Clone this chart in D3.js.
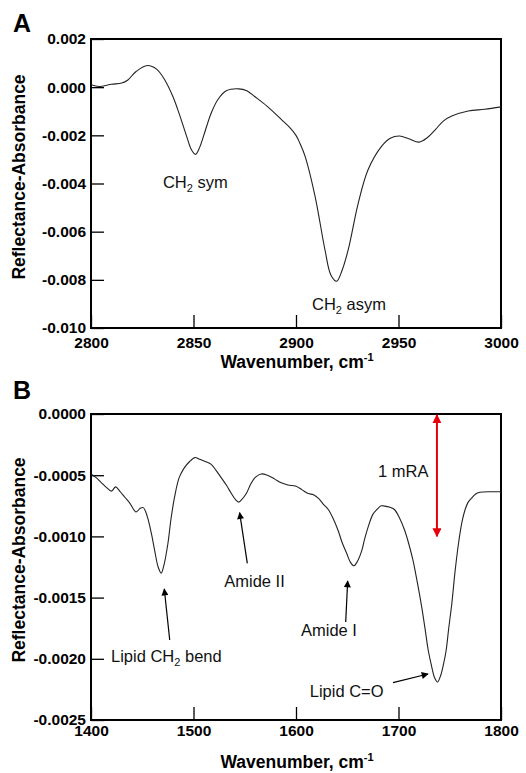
<!DOCTYPE html>
<html><head><meta charset="utf-8">
<script src="https://cdn.jsdelivr.net/npm/d3@7"></script>
<style>
body{margin:0;background:#fff}
text{font-family:"Liberation Sans",Arial,Helvetica,sans-serif}
</style>
</head><body>
<svg id="c" width="526" height="773"></svg>
<script>
// ---------- Panel A data ----------
const waveA = [2800,2804,2810,2815,2818,2822,2827.5,2832,2836,2840,2843,2846.5,2849,2851,2853,2855,2858.7,2862,2866,2872,2876,2880,2886,2892.8,2897,2900,2902,2904.4,2909.3,2914.1,2917,2919.8,2922.5,2925.5,2930.4,2935.2,2941.8,2946,2950.5,2955,2960,2964,2968,2972,2976,2984,2992,3000];
const absA  = [0.00010,0.00003,0.00012,0.00017,0.00030,0.00065,0.00090,0.00075,0.00030,-0.00040,-0.00110,-0.00200,-0.00260,-0.00279,-0.00250,-0.00200,-0.00106,-0.00050,-0.00015,-0.00007,-0.00015,-0.00040,-0.00080,-0.00134,-0.00168,-0.00200,-0.00235,-0.00286,-0.00453,-0.00674,-0.00780,-0.00806,-0.00760,-0.00674,-0.00480,-0.00342,-0.00245,-0.00212,-0.00203,-0.00214,-0.00228,-0.00210,-0.00176,-0.00140,-0.00120,-0.00099,-0.00092,-0.00082];
const xTicksA = [2800,2850,2900,2950,3000];
const yTicksA = [0.002,0,-0.002,-0.004,-0.006,-0.008,-0.010];

// ---------- Panel B data ----------
const waveB = [1400,1405,1410,1415,1420,1424,1428,1433,1438,1444,1448,1451,1455,1459,1462,1465.5,1468.5,1471,1475,1478,1481.5,1486,1491,1496,1501.5,1506,1512,1517,1522,1527,1532,1537,1541,1544,1547,1551.5,1556,1560,1566,1572,1579,1585,1592,1600,1606,1612,1617,1622,1627,1631.5,1636,1641,1645,1649.5,1653,1656.5,1659.5,1664,1667,1670.5,1675,1679,1683,1686,1691,1696,1701,1706,1710,1714,1718,1722.5,1726,1729,1732,1735,1738,1741,1744,1746.5,1749,1752,1755,1758.5,1762,1765,1768,1771,1775,1779.5,1790,1800];
const absB  = [-0.00049,-0.00052,-0.00056,-0.00060,-0.00063,-0.000595,-0.00063,-0.00068,-0.00073,-0.00080,-0.00077,-0.000765,-0.00084,-0.00098,-0.00111,-0.00125,-0.00130,-0.00124,-0.00106,-0.00086,-0.00068,-0.00052,-0.00044,-0.00039,-0.000355,-0.00037,-0.00039,-0.00041,-0.00046,-0.00052,-0.00058,-0.00065,-0.00070,-0.00072,-0.00070,-0.00065,-0.00057,-0.00052,-0.00049,-0.00050,-0.00053,-0.00056,-0.00058,-0.00059,-0.00062,-0.00065,-0.00066,-0.00069,-0.00074,-0.00078,-0.00085,-0.00095,-0.00105,-0.00114,-0.00121,-0.00124,-0.00121,-0.00112,-0.00102,-0.00092,-0.00082,-0.00078,-0.00075,-0.000752,-0.00076,-0.00078,-0.00085,-0.00095,-0.00106,-0.00119,-0.00136,-0.00157,-0.00176,-0.00193,-0.00205,-0.00215,-0.00219,-0.00214,-0.00204,-0.00193,-0.00175,-0.00155,-0.00130,-0.00106,-0.00088,-0.00078,-0.00072,-0.00069,-0.000655,-0.00064,-0.000635,-0.000635];
const xTicksB = [1400,1500,1600,1700,1800];
const yTicksB = [0,-0.0005,-0.0010,-0.0015,-0.0020,-0.0025];

// ---------- Annotations (data units) ----------
const notesA = [
  {main:"CH", sub:"2", rest:" sym",  x:2835.1, y:-0.00418},
  {main:"CH", sub:"2", rest:" asym", x:2907.8, y:-0.00924}
];
const notesB = [
  {main:"Amide II", sub:"", rest:"", x:1530, y:-0.00141},
  {main:"Lipid CH", sub:"2", rest:" bend", x:1419.5, y:-0.00203},
  {main:"Amide I", sub:"", rest:"", x:1604.9, y:-0.00181},
  {main:"Lipid C=O", sub:"", rest:"", x:1613.4, y:-0.00231},
  {main:"1 mRA", sub:"", rest:"", x:1680, y:-0.000515}
];
const arrowsB = [
  {x1:1552.5, y1:-0.00122, x2:1545.0, y2:-0.000806},
  {x1:1476.8, y1:-0.001846, x2:1471.5, y2:-0.00143},
  {x1:1648.5, y1:-0.00170, x2:1650.4, y2:-0.001364},
  {x1:1694.6, y1:-0.002195, x2:1728.8, y2:-0.002124}
];
const scaleBar = {x:1737.5, y1:0, y2:-0.0010};

const svg = d3.select("#c");
const defs = svg.append("defs");
defs.append("marker").attr("id","ah").attr("viewBox","0 0 10 10").attr("refX",9).attr("refY",5)
  .attr("markerWidth",8).attr("markerHeight",7).attr("markerUnits","userSpaceOnUse").attr("orient","auto")
  .append("path").attr("d","M0,0L10,5L0,10Z").attr("fill","#000");
defs.append("marker").attr("id","rh").attr("viewBox","0 0 10 10").attr("refX",9).attr("refY",5)
  .attr("markerWidth",9).attr("markerHeight",9).attr("markerUnits","userSpaceOnUse").attr("orient","auto-start-reverse")
  .append("path").attr("d","M0,0L10,5L0,10Z").attr("fill","#e8000b");

function panel(o){
  const x = d3.scaleLinear().domain(o.xd).range([91,501]);
  const y = d3.scaleLinear().domain(o.yd).range([o.bottom,o.top]);
  const g = svg.append("g");
  const fmt = d => d.toFixed(o.dec);
  const ya = g.append("g").attr("transform","translate(91,0)")
    .call(d3.axisLeft(y).tickValues(o.yt).tickSize(-13).tickPadding(5).tickFormat(fmt));
  const xa = g.append("g").attr("transform",`translate(0,${o.bottom})`)
    .call(d3.axisBottom(x).tickValues(o.xt).tickSize(-13).tickPadding(o.xpad).tickFormat(d3.format("d")));
  [ya,xa].forEach(a=>{
    a.select(".domain").remove();
    a.selectAll("line").attr("stroke","#000").attr("stroke-width",1.3);
    a.selectAll("text").attr("fill","#000").style("font-size","15.5px").style("font-weight","bold");
  });
  g.append("rect").attr("x",91).attr("y",o.top).attr("width",410).attr("height",o.bottom-o.top)
    .attr("fill","none").attr("stroke","#000").attr("stroke-width",2);
  const line = d3.line().x((d,i)=>x(o.w[i])).y(d=>y(d)).curve(d3.curveCatmullRom.alpha(0.5));
  g.append("path").datum(o.a).attr("d",line).attr("fill","none").attr("stroke","#222").attr("stroke-width",1.1);
  // titles
  g.append("text").attr("transform",`translate(25,${o.ylc}) rotate(-90)`).attr("text-anchor","middle")
    .style("font-size","17.5px").style("font-weight","bold").text("Reflectance-Absorbance");
  const xt = g.append("text").attr("x",297).attr("y",o.xtb).attr("text-anchor","middle")
    .style("font-size","17.5px").style("font-weight","bold");
  xt.append("tspan").text("Wavenumber, cm");
  xt.append("tspan").attr("dy",-7).style("font-size","11px").text("-1");
  g.append("text").attr("x",13).attr("y",o.pl).style("font-size","25px").style("font-weight","bold").text(o.label);
  o.notes.forEach(n=>{
    const t = g.append("text").attr("x",x(n.x)).attr("y",y(n.y)).style("font-size","16.5px").attr("fill","#111");
    t.append("tspan").text(n.main);
    if(n.sub){
      t.append("tspan").attr("dy",4).style("font-size","11px").text(n.sub);
      t.append("tspan").attr("dy",-4).text(n.rest);
    }
  });
  (o.arrows||[]).forEach(a=>{
    g.append("line").attr("x1",x(a.x1)).attr("y1",y(a.y1)).attr("x2",x(a.x2)).attr("y2",y(a.y2))
      .attr("stroke","#000").attr("stroke-width",1.2).attr("marker-end","url(#ah)");
  });
  if(o.bar){
    g.append("line").attr("x1",x(o.bar.x)).attr("x2",x(o.bar.x)).attr("y1",y(o.bar.y1)+1).attr("y2",y(o.bar.y2))
      .attr("stroke","#e8000b").attr("stroke-width",2).attr("marker-start","url(#rh)").attr("marker-end","url(#rh)");
  }
}

panel({xd:[2800,3000], yd:[-0.010,0.002], top:39, bottom:328, xt:xTicksA, yt:yTicksA, dec:3, xpad:9,
  w:waveA, a:absA, ylc:177, xtb:368, pl:32, label:"A", notes:notesA});
panel({xd:[1400,1800], yd:[-0.0025,0], top:414, bottom:720, xt:xTicksB, yt:yTicksB, dec:4, xpad:5,
  w:waveB, a:absB, ylc:560, xtb:768, pl:399, label:"B", notes:notesB, arrows:arrowsB, bar:scaleBar});
</script>
</body></html>
